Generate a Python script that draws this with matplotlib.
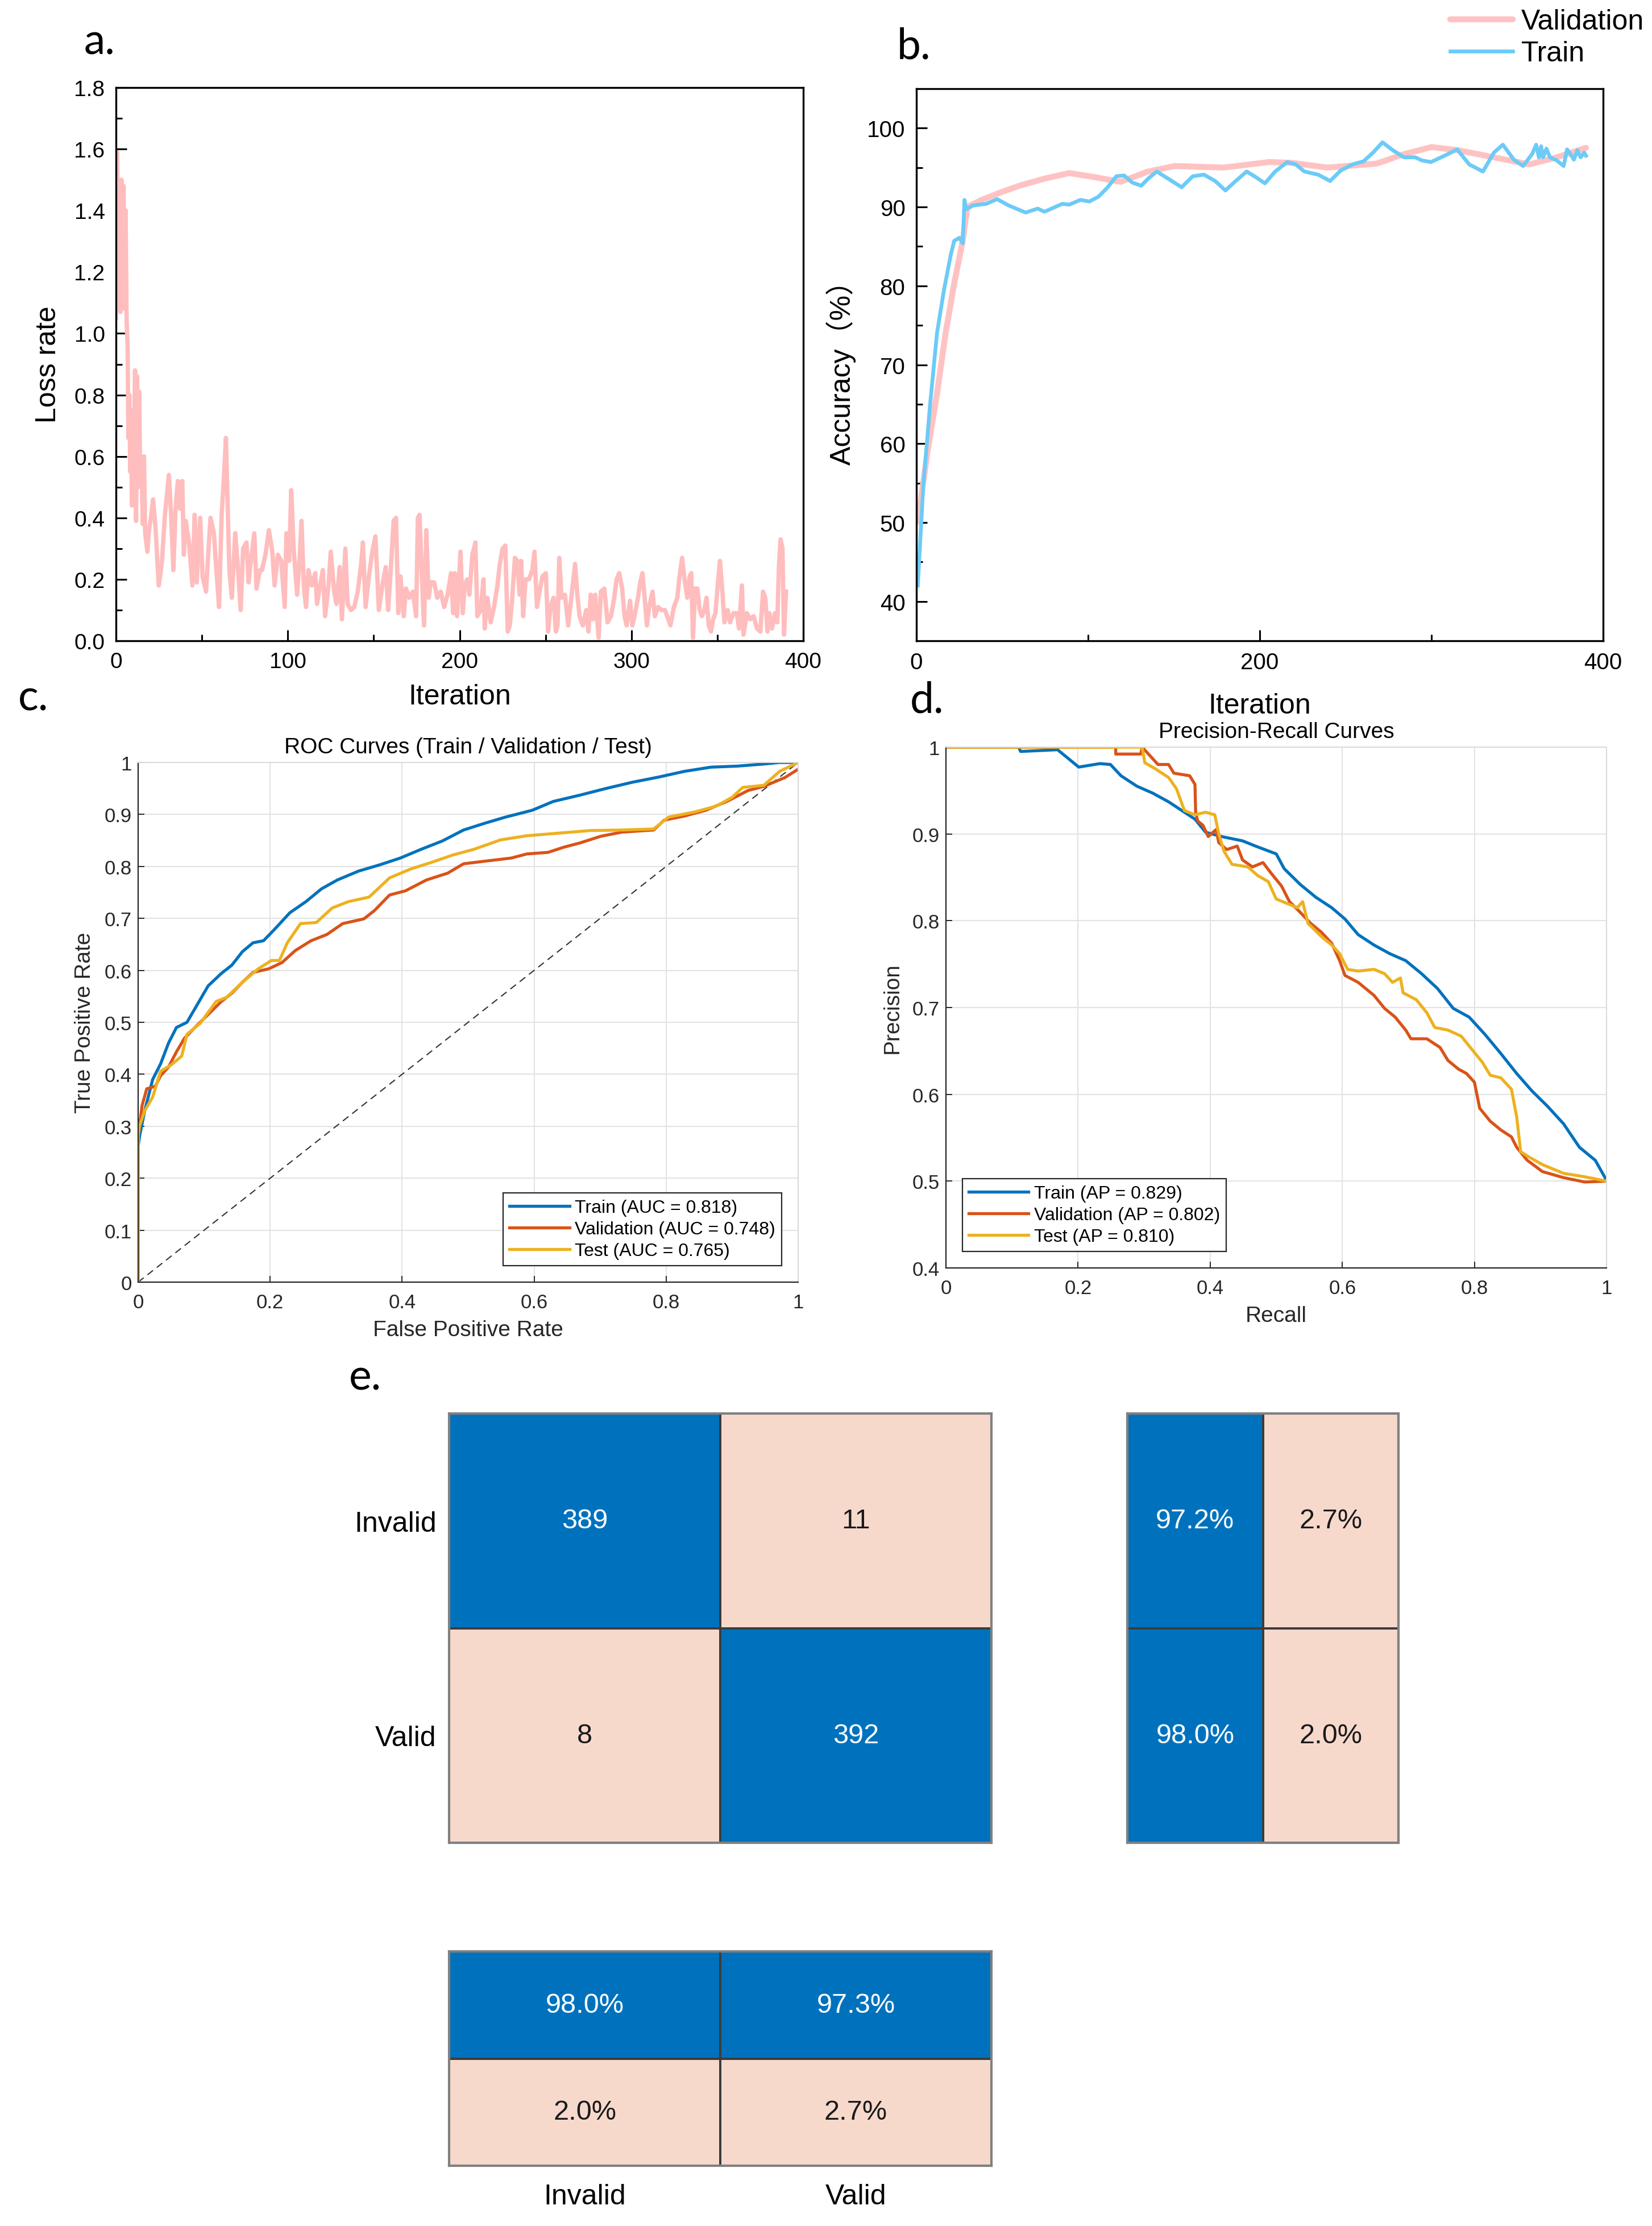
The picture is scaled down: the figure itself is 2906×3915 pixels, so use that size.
import matplotlib
matplotlib.use("Agg")
import matplotlib.pyplot as plt
from matplotlib.ticker import MultipleLocator, FuncFormatter, FixedLocator
from matplotlib.colors import ListedColormap
import numpy as np

plt.rcParams['font.family'] = ['Liberation Sans', 'Noto Sans CJK SC', 'DejaVu Sans']

# ---------------- data ----------------
# (a) loss curve
loss_iter = [0, 0.7, 1.3, 2.0, 2.6, 3.2, 3.8, 4.4, 5.0, 5.6, 6.2, 6.8, 7.2, 7.8, 8.3, 8.8, 9.3, 9.9,
             10.5, 11.1, 11.7, 12.3, 12.9, 13.5, 14.1, 14.8, 15.6, 16.3, 17.0, 18.3, 19.0, 20.3, 21.6,
             23.0, 24.9, 26.8, 28.5, 30.8, 32.0, 33.4, 34.7, 36.0, 37.3, 38.6, 39.5, 40.6, 42.5, 44.5,
             45.8, 47.0, 49.0, 50.4, 52.4, 54.0, 55.0, 57.0, 58.3, 60.0, 61.5, 62.8, 64.0, 65.0, 66.0,
             67.4, 69.4, 70.7, 72.6, 74.0, 76.0, 77.2, 78.5, 80.5, 81.8, 83.8, 85.0, 87.0, 89.0, 91.0,
             92.3, 94.2, 96.2, 98.2, 99.2, 100.8, 102.0, 103.4, 105.4, 106.7, 108.0, 109.3, 110.6,
             112.0, 114.0, 116.0, 117.0, 118.5, 120.4, 121.7, 123.7, 125.0, 127.0, 128.3, 130.2, 131.5,
             133.5, 134.8, 136.8, 138.7, 140.7, 142.7, 143.7, 145.3, 147.2, 149.2, 151.0, 153.0, 155.0,
             157.0, 158.4, 159.7, 161.6, 163.0, 164.3, 165.6, 167.5, 168.8, 170.8, 172.8, 174.7, 175.7,
             176.7, 178.0, 179.3, 180.6, 182.0, 183.2, 185.2, 187.0, 189.0, 191.0, 193.0, 195.0, 196.3,
             197.2, 198.5, 200.5, 201.8, 203.0, 204.4, 205.7, 207.4, 209.2, 210.3, 212.2, 213.9, 214.6,
             216.2, 218.1, 220.0, 222.0, 223.4, 225.0, 226.6, 228.0, 229.2, 230.5, 232.2, 233.6, 234.9,
             235.8, 237.0, 238.4, 240.4, 242.3, 243.6, 245.0, 246.2, 248.2, 250.2, 251.5, 252.8, 254.7,
             256.0, 257.0, 258.0, 259.3, 261.3, 263.2, 265.2, 267.2, 268.5, 269.8, 271.7, 273.7, 275.0,
             276.3, 277.6, 278.9, 280.9, 282.2, 284.2, 286.1, 288.1, 290.0, 291.3, 292.9, 294.6, 296.0,
             297.2, 299.2, 300.5, 301.8, 303.8, 305.1, 306.4, 307.7, 309.0, 310.3, 312.3, 313.6, 315.5,
             317.5, 319.5, 321.4, 322.7, 324.7, 326.7, 328.0, 329.5, 330.9, 332.5, 333.9, 334.8, 335.8,
             337.1, 338.4, 339.7, 341.0, 342.4, 343.7, 345.0, 346.3, 347.6, 348.9, 350.5, 351.5, 352.8,
             354.1, 356.0, 357.4, 359.4, 361.3, 362.6, 364.3, 365.2, 367.2, 369.2, 371.1, 373.1, 375.0,
             376.6, 377.9, 379.2, 380.3, 381.8, 383.5, 384.9, 385.8, 386.8, 387.9, 388.8, 390.0]
loss_val = [1.05, 1.59, 1.10, 1.50, 1.07, 1.50, 1.12, 1.48, 1.08, 1.40, 1.04, 0.95, 0.66, 0.80, 0.55, 0.70,
            0.44, 0.75, 0.60, 0.88, 0.39, 0.86, 0.50, 0.81, 0.53, 0.60, 0.38, 0.60, 0.35, 0.29, 0.35, 0.40,
            0.46, 0.37, 0.18, 0.26, 0.41, 0.54, 0.42, 0.23, 0.43, 0.52, 0.43, 0.52, 0.28, 0.39, 0.32, 0.18,
            0.41, 0.19, 0.40, 0.21, 0.16, 0.31, 0.40, 0.35, 0.24, 0.11, 0.41, 0.53, 0.66, 0.44, 0.23, 0.14,
            0.35, 0.26, 0.10, 0.30, 0.32, 0.19, 0.26, 0.35, 0.17, 0.23, 0.23, 0.28, 0.36, 0.29, 0.18, 0.28,
            0.26, 0.11, 0.35, 0.26, 0.49, 0.30, 0.15, 0.25, 0.39, 0.18, 0.11, 0.23, 0.18, 0.22, 0.12, 0.17,
            0.23, 0.08, 0.18, 0.29, 0.16, 0.12, 0.24, 0.07, 0.30, 0.12, 0.10, 0.11, 0.16, 0.25, 0.32, 0.11,
            0.21, 0.29, 0.34, 0.10, 0.18, 0.24, 0.10, 0.21, 0.39, 0.40, 0.09, 0.21, 0.08, 0.17, 0.14, 0.16,
            0.08, 0.40, 0.41, 0.21, 0.05, 0.36, 0.14, 0.19, 0.19, 0.14, 0.16, 0.11, 0.15, 0.22, 0.09, 0.22,
            0.08, 0.29, 0.09, 0.18, 0.20, 0.15, 0.28, 0.32, 0.08, 0.10, 0.20, 0.04, 0.14, 0.06, 0.11, 0.18,
            0.25, 0.30, 0.31, 0.03, 0.05, 0.13, 0.27, 0.26, 0.15, 0.26, 0.08, 0.20, 0.20, 0.23, 0.29, 0.11,
            0.15, 0.21, 0.22, 0.03, 0.11, 0.14, 0.03, 0.05, 0.27, 0.14, 0.15, 0.05, 0.15, 0.25, 0.15, 0.08,
            0.05, 0.10, 0.03, 0.15, 0.07, 0.15, 0.01, 0.16, 0.17, 0.06, 0.08, 0.14, 0.20, 0.22, 0.17, 0.08,
            0.05, 0.13, 0.05, 0.08, 0.14, 0.19, 0.22, 0.14, 0.05, 0.11, 0.16, 0.08, 0.11, 0.10, 0.10, 0.07,
            0.05, 0.11, 0.14, 0.21, 0.27, 0.20, 0.14, 0.21, 0.22, 0.01, 0.17, 0.17, 0.10, 0.08, 0.10, 0.14,
            0.05, 0.03, 0.07, 0.09, 0.20, 0.26, 0.17, 0.06, 0.10, 0.06, 0.09, 0.09, 0.04, 0.18, 0.02, 0.09,
            0.07, 0.08, 0.04, 0.03, 0.16, 0.14, 0.03, 0.09, 0.04, 0.09, 0.06, 0.24, 0.33, 0.30, 0.02, 0.16]

# (b) accuracy curves
acc_train_iter = [0.8, 4, 8, 12, 16, 20, 22, 25, 27, 28, 29, 33, 40.6, 47, 53.7, 63.6, 70.7, 74.6, 85, 89,
                  95.5, 100.8, 106, 111, 116.5, 121, 125.7, 131, 135, 140, 146.6, 154.5, 161, 167.5, 174,
                  180, 186, 192.4, 197.6, 203, 209, 216, 221, 226, 234, 241, 247, 254, 260.5, 266, 271.5,
                  277.5, 284, 290.6, 294.5, 299.7, 307.6, 315, 322, 330, 336.4, 341.6, 348, 353.4, 358.6,
                  361, 362.6, 363.9, 365, 367, 369, 373, 377, 379, 381, 383, 385, 386.9, 389, 390]
acc_train = [42, 54.6, 65, 74, 79.4, 83.9, 85.7, 86.1, 85.4, 90.9, 89.7, 90.2, 90.4, 91.0, 90.2, 89.3,
             89.8, 89.4, 90.4, 90.3, 90.9, 90.7, 91.3, 92.4, 93.9, 94.0, 93.1, 92.7, 93.6, 94.5, 93.6,
             92.5, 93.9, 94.1, 93.3, 92.1, 93.3, 94.5, 93.8, 93.0, 94.5, 95.7, 95.4, 94.5, 94.1, 93.3,
             94.6, 95.4, 95.8, 96.9, 98.2, 97.2, 96.3, 96.3, 95.9, 95.7, 96.5, 97.3, 95.4, 94.5, 96.9,
             97.9, 96.0, 95.2, 96.7, 97.9, 96.3, 97.7, 96.3, 97.4, 96.3, 95.9, 95.2, 97.3, 96.7, 96.0,
             97.2, 96.3, 96.9, 96.5]
acc_val_iter = [0.8, 6.5, 12, 17, 22, 27, 29.6, 38, 48.4, 60, 74.6, 89, 100.8, 119, 135, 150.5, 179,
                205.5, 218.6, 239.5, 268, 284, 300, 315.5, 336.4, 357, 373, 390]
acc_val = [50.1, 59, 66.3, 74, 80.3, 85.7, 90.0, 90.9, 91.8, 92.7, 93.6, 94.3, 93.9, 93.2, 94.5, 95.2,
           95.0, 95.7, 95.6, 95.0, 95.5, 96.7, 97.6, 97.2, 96.3, 95.4, 96.3, 97.5]

# (c) ROC curves
roc_fpr_train = [0, 0, 0.002, 0.01, 0.022, 0.034, 0.046, 0.058, 0.074, 0.09, 0.106, 0.126, 0.142, 0.158,
                 0.174, 0.19, 0.206, 0.23, 0.254, 0.278, 0.302, 0.334, 0.366, 0.397, 0.429, 0.461, 0.493,
                 0.525, 0.557, 0.597, 0.629, 0.669, 0.709, 0.749, 0.789, 0.828, 0.868, 0.908, 0.948, 0.972, 1.0]
roc_tpr_train = [0, 0.26, 0.28, 0.33, 0.39, 0.42, 0.46, 0.49, 0.50, 0.535, 0.57, 0.594, 0.61, 0.636,
                 0.653, 0.657, 0.678, 0.711, 0.732, 0.757, 0.774, 0.791, 0.803, 0.816, 0.833, 0.849, 0.870,
                 0.883, 0.895, 0.908, 0.925, 0.937, 0.950, 0.962, 0.972, 0.983, 0.991, 0.993, 0.997, 1.0, 1.0]
roc_fpr_val = [0, 0, 0.002, 0.006, 0.013, 0.026, 0.034, 0.046, 0.058, 0.07, 0.086, 0.106, 0.126, 0.142,
               0.158, 0.174, 0.198, 0.218, 0.238, 0.262, 0.286, 0.31, 0.342, 0.358, 0.381, 0.405, 0.437,
               0.469, 0.493, 0.525, 0.565, 0.589, 0.621, 0.645, 0.669, 0.701, 0.733, 0.781, 0.797, 0.828,
               0.860, 0.892, 0.924, 0.948, 0.980, 1.0]
roc_tpr_val = [0, 0.28, 0.30, 0.34, 0.372, 0.377, 0.397, 0.414, 0.443, 0.469, 0.49, 0.515, 0.54, 0.556,
               0.577, 0.596, 0.603, 0.615, 0.638, 0.657, 0.669, 0.69, 0.699, 0.715, 0.745, 0.753, 0.774,
               0.787, 0.805, 0.81, 0.816, 0.824, 0.827, 0.837, 0.845, 0.858, 0.866, 0.870, 0.889, 0.897,
               0.908, 0.925, 0.946, 0.954, 0.971, 0.987]
roc_fpr_test = [0, 0, 0.002, 0.01, 0.022, 0.034, 0.05, 0.066, 0.074, 0.094, 0.118, 0.134, 0.158, 0.182,
                0.202, 0.214, 0.226, 0.246, 0.27, 0.294, 0.318, 0.35, 0.381, 0.413, 0.445, 0.477, 0.509,
                0.549, 0.589, 0.637, 0.685, 0.733, 0.781, 0.804, 0.844, 0.876, 0.9, 0.916, 0.948, 0.972, 1.0]
roc_tpr_test = [0, 0.28, 0.30, 0.33, 0.356, 0.406, 0.418, 0.435, 0.477, 0.498, 0.54, 0.548, 0.577, 0.603,
                0.619, 0.619, 0.653, 0.69, 0.692, 0.72, 0.732, 0.741, 0.778, 0.795, 0.808, 0.822, 0.833,
                0.851, 0.859, 0.864, 0.869, 0.870, 0.872, 0.895, 0.905, 0.916, 0.933, 0.952, 0.956, 0.983, 1.0]
roc_labels = ['Train (AUC = 0.818)', 'Validation (AUC = 0.748)', 'Test (AUC = 0.765)']

# (d) precision-recall curves
pr_rec_train = [0, 0.11, 0.113, 0.169, 0.185, 0.201, 0.233, 0.249, 0.265, 0.289, 0.313, 0.337, 0.361,
                0.377, 0.393, 0.417, 0.449, 0.472, 0.5, 0.512, 0.536, 0.560, 0.584, 0.604, 0.624, 0.648,
                0.672, 0.696, 0.720, 0.744, 0.768, 0.792, 0.816, 0.840, 0.864, 0.887, 0.911, 0.935, 0.959,
                0.983, 1.0]
pr_prec_train = [1.0, 1.0, 0.995, 0.997, 0.987, 0.977, 0.981, 0.980, 0.967, 0.955, 0.947, 0.937, 0.925,
                 0.917, 0.902, 0.897, 0.892, 0.885, 0.877, 0.860, 0.842, 0.827, 0.815, 0.802, 0.784, 0.772,
                 0.762, 0.754, 0.739, 0.722, 0.699, 0.689, 0.669, 0.647, 0.624, 0.604, 0.586, 0.566, 0.539,
                 0.524, 0.501]
pr_rec_val = [0, 0.257, 0.257, 0.295, 0.297, 0.321, 0.337, 0.345, 0.369, 0.377, 0.378, 0.381, 0.389,
              0.397, 0.409, 0.413, 0.425, 0.441, 0.449, 0.464, 0.480, 0.492, 0.508, 0.520, 0.536, 0.552,
              0.568, 0.584, 0.596, 0.604, 0.624, 0.648, 0.664, 0.680, 0.696, 0.704, 0.728, 0.748, 0.760,
              0.776, 0.788, 0.800, 0.808, 0.824, 0.840, 0.856, 0.864, 0.880, 0.903, 0.935, 0.967, 1.0]
pr_prec_val = [1.0, 1.0, 0.992, 0.992, 1.0, 0.98, 0.98, 0.97, 0.967, 0.957, 0.925, 0.915, 0.910, 0.897,
               0.905, 0.89, 0.882, 0.886, 0.870, 0.862, 0.867, 0.855, 0.840, 0.822, 0.810, 0.797, 0.787,
               0.774, 0.754, 0.737, 0.729, 0.714, 0.699, 0.689, 0.674, 0.664, 0.664, 0.654, 0.639, 0.629,
               0.624, 0.614, 0.584, 0.569, 0.559, 0.551, 0.539, 0.524, 0.511, 0.504, 0.499, 0.5]
pr_rec_test = [0, 0.297, 0.301, 0.317, 0.337, 0.349, 0.361, 0.377, 0.393, 0.407, 0.413, 0.421, 0.433,
               0.457, 0.472, 0.488, 0.500, 0.516, 0.532, 0.540, 0.548, 0.568, 0.584, 0.596, 0.608, 0.624,
               0.648, 0.664, 0.676, 0.688, 0.692, 0.712, 0.728, 0.740, 0.760, 0.780, 0.796, 0.812, 0.824,
               0.840, 0.856, 0.864, 0.870, 0.880, 0.903, 0.935, 0.967, 1.0]
pr_prec_test = [1.0, 1.0, 0.982, 0.975, 0.965, 0.952, 0.927, 0.922, 0.925, 0.922, 0.9, 0.880, 0.865,
                0.862, 0.852, 0.845, 0.825, 0.820, 0.815, 0.822, 0.797, 0.782, 0.772, 0.762, 0.744, 0.742,
                0.744, 0.739, 0.729, 0.734, 0.717, 0.709, 0.694, 0.677, 0.674, 0.667, 0.652, 0.637, 0.622,
                0.619, 0.606, 0.574, 0.534, 0.529, 0.519, 0.509, 0.505, 0.5]
pr_labels = ['Train (AP = 0.829)', 'Validation (AP = 0.802)', 'Test (AP = 0.810)']

# (e) confusion matrix
class_names = ['Invalid', 'Valid']
cm_counts = [[389, 11], [8, 392]]
row_summary = [['97.2%', '2.7%'], ['98.0%', '2.0%']]
col_summary = [['98.0%', '97.3%'], ['2.0%', '2.7%']]

# ---------------- figure ----------------
W, H, DPI = 2906, 3916, 100
fig = plt.figure(figsize=(W / DPI, H / DPI), dpi=DPI)
fig.patch.set_facecolor('white')


def add_ax(l, t, r, b):
    return fig.add_axes([l / W, 1 - b / H, (r - l) / W, (b - t) / H])


def origin_style(ax):
    for s in ax.spines.values():
        s.set_linewidth(2.4)
        s.set_color('black')
    ax.tick_params(which='both', direction='in', top=False, right=False, width=2.2,
                   colors='black', labelsize=28, pad=14)
    ax.tick_params(which='major', length=14)
    ax.tick_params(which='minor', length=8)


# panel a
axa = add_ax(204, 155, 1413, 1128)
axa.plot(loss_iter, loss_val, color='#FFBDBD', lw=5.5, solid_joinstyle='round')
axa.set_xlim(0, 400)
axa.set_ylim(0, 1.8)
axa.xaxis.set_major_locator(MultipleLocator(100))
axa.xaxis.set_minor_locator(MultipleLocator(50))
axa.yaxis.set_major_locator(MultipleLocator(0.2))
axa.yaxis.set_minor_locator(MultipleLocator(0.1))
axa.yaxis.set_major_formatter(FuncFormatter(lambda v, p: f'{v:.1f}'))
origin_style(axa)
axa.set_xlabel('Iteration', fontsize=36, labelpad=14)
axa.set_ylabel('Loss rate', fontsize=36, labelpad=16)

# panel b
axb = add_ax(1612, 157, 2820, 1128)
axb.plot(acc_val_iter, acc_val, color='#FFC2C2', lw=7.5, label='Validation', solid_capstyle='round')
axb.plot(acc_train_iter, acc_train, color='#6CCBF7', lw=4.8, label='Train')
axb.set_xlim(0, 400)
axb.set_ylim(35, 105)
axb.xaxis.set_major_locator(FixedLocator([0, 200, 400]))
axb.xaxis.set_minor_locator(FixedLocator([100, 300]))
axb.yaxis.set_major_locator(MultipleLocator(10))
axb.yaxis.set_minor_locator(FixedLocator([45, 55, 65, 75, 85, 95]))
origin_style(axb)
axb.tick_params(labelsize=29)
axb.set_xlabel('Iteration', fontsize=36, labelpad=24)
axb.set_ylabel('Accuracy（%）', fontsize=36, labelpad=14)
axb.legend(loc='upper right', bbox_to_anchor=(2892 / W, 1 - 16 / H), bbox_transform=fig.transFigure,
           frameon=False, fontsize=36, handlelength=2.2, handletextpad=0.3, labelspacing=0.2,
           borderpad=0, borderaxespad=0)

# MATLAB-style panels
mcolors = ['#0072BD', '#D95319', '#EDB120']


def matlab_style(ax):
    ax.grid(True, color='#E3E3E3', lw=1.5)
    ax.set_axisbelow(True)
    for side in ['left', 'bottom']:
        ax.spines[side].set_color('#262626')
        ax.spines[side].set_linewidth(1.6)
    for side in ['top', 'right']:
        ax.spines[side].set_color('#DADADA')
        ax.spines[side].set_linewidth(1.4)
    ax.tick_params(which='both', direction='in', length=8, width=1.4, colors='#262626',
                   labelsize=25, top=False, right=False)
    fmt = FuncFormatter(lambda v, p: f'{v:g}')
    ax.xaxis.set_major_formatter(fmt)
    ax.yaxis.set_major_formatter(fmt)


axc = add_ax(243, 1342, 1404, 2256)
axc.plot([0, 1], [0, 1], color='#333333', lw=1.5, dashes=(6, 4))
for fx, ty, c, lab in zip([roc_fpr_train, roc_fpr_val, roc_fpr_test],
                          [roc_tpr_train, roc_tpr_val, roc_tpr_test], mcolors, roc_labels):
    axc.plot(fx, ty, color=c, lw=3.8, label=lab)
axc.set_xlim(0, 1)
axc.set_ylim(0, 1)
axc.xaxis.set_major_locator(MultipleLocator(0.2))
axc.yaxis.set_major_locator(MultipleLocator(0.1))
matlab_style(axc)
axc.tick_params(axis='x', pad=14)
axc.tick_params(axis='y', pad=8)
axc.set_title('ROC Curves (Train / Validation / Test)', fontsize=28, pad=12, color='#000000')
axc.set_xlabel('False Positive Rate', fontsize=28, color='#262626', labelpad=10)
axc.set_ylabel('True Positive Rate', fontsize=28, color='#262626', labelpad=12)
hc = axc.get_legend_handles_labels()
legc = axc.legend(hc[0][0:3], hc[1][0:3], loc='lower right', fontsize=23, handlelength=3.3,
                  handletextpad=0.3, labelspacing=0.25, borderpad=0.35, borderaxespad=0.9,
                  fancybox=False, framealpha=1, edgecolor='#262626')
legc.get_frame().set_linewidth(1.6)

axd = add_ax(1664, 1315, 2826, 2231)
for rx, py, c, lab in zip([pr_rec_train, pr_rec_val, pr_rec_test],
                          [pr_prec_train, pr_prec_val, pr_prec_test], mcolors, pr_labels):
    axd.plot(rx, py, color=c, lw=3.8, label=lab)
axd.set_xlim(0, 1)
axd.set_ylim(0.4, 1)
axd.xaxis.set_major_locator(MultipleLocator(0.2))
axd.yaxis.set_major_locator(MultipleLocator(0.1))
matlab_style(axd)
axd.tick_params(axis='x', pad=14)
axd.tick_params(axis='y', pad=8)
axd.set_title('Precision-Recall Curves', fontsize=28, pad=12, color='#000000')
axd.set_xlabel('Recall', fontsize=28, color='#262626', labelpad=10)
axd.set_ylabel('Precision', fontsize=28, color='#262626', labelpad=12)
legd = axd.legend(loc='lower left', fontsize=23, handlelength=3.3, handletextpad=0.3,
                  labelspacing=0.25, borderpad=0.35, borderaxespad=0.9,
                  fancybox=False, framealpha=1, edgecolor='#262626')
legd.get_frame().set_linewidth(1.6)

# panel e: confusion matrix
cm_cmap = ListedColormap(['#F7D9CC', '#0072BD'])


def draw_cells(ax, labels, correct, fs=35):
    nr, nc = len(labels), len(labels[0])
    ax.pcolormesh(np.arange(nc + 1), np.arange(nr + 1), np.array(correct, dtype=float),
                  cmap=cm_cmap, vmin=0, vmax=1, edgecolors='#3C3C3C', linewidth=1.5)
    for i in range(nr):
        for j in range(nc):
            ax.text(j + 0.5, i + 0.5, str(labels[i][j]), ha='center', va='center', fontsize=fs,
                    color='white' if correct[i][j] else '#1A1A1A')
    ax.set_xlim(0, nc)
    ax.set_ylim(nr, 0)
    ax.set_xticks([])
    ax.set_yticks([])
    for s in ax.spines.values():
        s.set_color('#808080')
        s.set_linewidth(3)


n = len(class_names)
main_correct = np.eye(n).astype(int).tolist()
row_correct = [[1, 0] for _ in range(n)]
col_correct = [[1] * n, [0] * n]

axe = add_ax(790, 2487, 1744, 3242)
draw_cells(axe, cm_counts, main_correct)
axe.set_yticks([0.5, 1.5])
axe.set_yticklabels(class_names, fontsize=36)
axe.tick_params(axis='y', length=0, pad=16)

axr = add_ax(1983, 2487, 2460, 3242)
draw_cells(axr, row_summary, row_correct)

axs = add_ax(790, 3433, 1744, 3810)
draw_cells(axs, col_summary, col_correct)
axs.set_xticks([0.5, 1.5])
axs.set_xticklabels(class_names, fontsize=36)
axs.tick_params(axis='x', length=0, pad=22)

# panel letters
for txt, x, y in [('a.', 148, 96), ('b.', 1578, 104), ('c.', 32, 1250), ('d.', 1601, 1254), ('e.', 614, 2445)]:
    fig.text(x / W, 1 - y / H, txt, fontsize=54, family='Lato', va='baseline', ha='left')

fig.savefig('out.png', dpi=DPI, facecolor='white')
